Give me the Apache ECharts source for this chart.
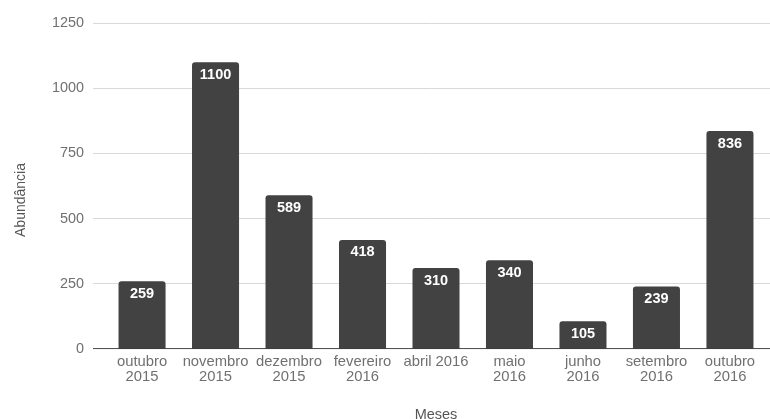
<!DOCTYPE html>
<html><head><meta charset="utf-8">
<script src="https://cdn.jsdelivr.net/npm/echarts@6/dist/echarts.min.js"></script>
<style>html,body{margin:0;padding:0;background:#fff}#c{width:770px;height:419px}</style>
</head><body><div id="c"></div>
<script>
const categories = ['outubro\n2015','novembro\n2015','dezembro\n2015','fevereiro\n2016','abril 2016','maio\n2016','junho\n2016','setembro\n2016','outubro\n2016'];
const abundancia = [259, 1100, 589, 418, 310, 340, 105, 239, 836];
const yTicks = [0, 250, 500, 750, 1000, 1250];

const font = 'Liberation Sans, Arial, sans-serif';
const chart = echarts.init(document.getElementById('c'));
chart.setOption({
  animation: false,
  grid: [
    {left: 105.3, right: 3.3, top: 23.3, bottom: 70.3, outerBoundsMode: 'none', containLabel: false},
    {left: 93, right: 0, top: 23.3, bottom: 70.3, outerBoundsMode: 'none', containLabel: false}
  ],
  xAxis: [
    {type: 'category', gridIndex: 0, data: categories,
     axisLine: {show: false}, axisTick: {show: false},
     axisLabel: {color: '#707070', fontFamily: font, fontSize: 14.8, lineHeight: 14.5, margin: 6, interval: 0},
     name: 'Meses', nameLocation: 'middle', nameGap: 59,
     nameTextStyle: {color: '#555', fontFamily: font, fontSize: 14.5}},
    {type: 'value', gridIndex: 1, show: false, min: 0, max: 1}
  ],
  yAxis: [
    {type: 'value', gridIndex: 0, min: 0, max: 1250, interval: 250, show: false},
    {type: 'value', gridIndex: 1, min: 0, max: 1250, interval: 250,
     axisLine: {show: false}, axisTick: {show: false},
     splitLine: {lineStyle: {color: '#d9d9d9', width: 1}},
     axisLabel: {color: '#707070', fontFamily: font, fontSize: 14.4, margin: 9,
       formatter: v => yTicks.includes(v) ? String(v) : ''}}
  ],
  graphic: [
    {type: 'text', x: 21, y: 200, rotation: Math.PI / 2,
     style: {text: 'Abundância', fill: '#555', font: '14px ' + font, align: 'center', verticalAlign: 'middle'}}
  ],
  series: [
    {type: 'bar', xAxisIndex: 0, yAxisIndex: 0, data: abundancia,
     barCategoryGap: '36%',
     itemStyle: {color: '#424242', borderRadius: [3, 3, 0, 0]},
     label: {show: true, position: 'insideTop', distance: 5, color: '#fff',
       fontFamily: font, fontSize: 14.5, fontWeight: 'bold'},
     z: 3},
    {type: 'line', xAxisIndex: 1, yAxisIndex: 1, data: [[0, 0], [1, 0]],
     symbol: 'none', lineStyle: {color: '#333', width: 1}, silent: true, z: 4}
  ]
});
</script></body></html>
